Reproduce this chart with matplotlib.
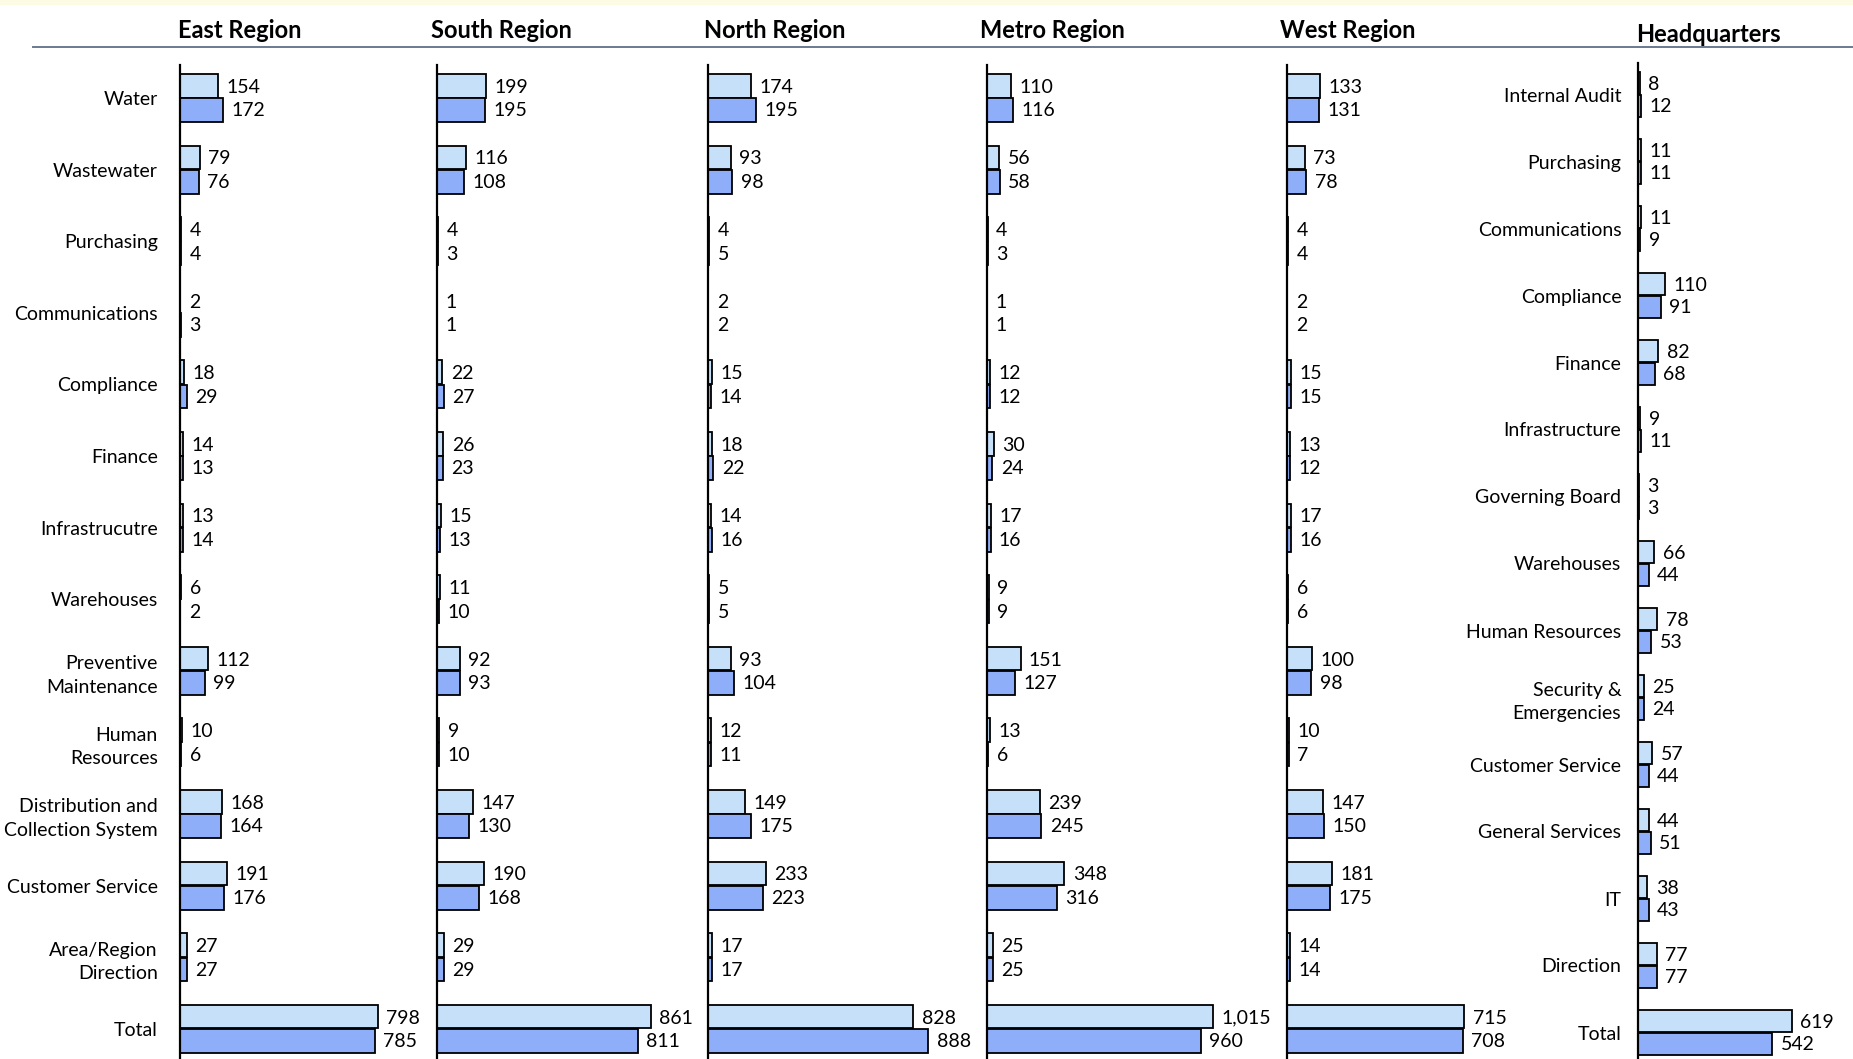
import numpy as np
import matplotlib
matplotlib.use("Agg")
import matplotlib.pyplot as plt
from matplotlib.patches import Rectangle

plt.rcParams['font.family'] = ['Lato', 'DejaVu Sans']

# categories shared by the five regions
region_cats = ["Water", "Wastewater", "Purchasing", "Communications", "Compliance",
               "Finance", "Infrastrucutre", "Warehouses", "Preventive\nMaintenance",
               "Human\nResources", "Distribution and\nCollection System",
               "Customer Service", "Area/Region\nDirection", "Total"]

regions = ["East Region", "South Region", "North Region", "Metro Region", "West Region"]

# first value = light bar (top), second value = dark bar (bottom)
east_a = [154, 79, 4, 2, 18, 14, 13, 6, 112, 10, 168, 191, 27, 798]
east_b = [172, 76, 4, 3, 29, 13, 14, 2, 99, 6, 164, 176, 27, 785]
south_a = [199, 116, 4, 1, 22, 26, 15, 11, 92, 9, 147, 190, 29, 861]
south_b = [195, 108, 3, 1, 27, 23, 13, 10, 93, 10, 130, 168, 29, 811]
north_a = [174, 93, 4, 2, 15, 18, 14, 5, 93, 12, 149, 233, 17, 828]
north_b = [195, 98, 5, 2, 14, 22, 16, 5, 104, 11, 175, 223, 17, 888]
metro_a = [110, 56, 4, 1, 12, 30, 17, 9, 151, 13, 239, 348, 25, 1015]
metro_b = [116, 58, 3, 1, 12, 24, 16, 9, 127, 6, 245, 316, 25, 960]
west_a = [133, 73, 4, 2, 15, 13, 17, 6, 100, 10, 147, 181, 14, 715]
west_b = [131, 78, 4, 2, 15, 12, 16, 6, 98, 7, 150, 175, 14, 708]

hq_cats = ["Internal Audit", "Purchasing", "Communications", "Compliance", "Finance",
           "Infrastructure", "Governing Board", "Warehouses", "Human Resources",
           "Security &\nEmergencies", "Customer Service", "General Services", "IT",
           "Direction", "Total"]
hq_a = [8, 11, 11, 110, 82, 9, 3, 66, 78, 25, 57, 44, 38, 77, 619]
hq_b = [12, 11, 9, 91, 68, 11, 3, 44, 53, 24, 44, 51, 43, 77, 542]

light = "#C6E0FA"
dark = "#8FAEFA"

W, H = 1853, 1059
fig = plt.figure(figsize=(W / 100, H / 100), dpi=100)

# thin pale strip at top
fig.patches.append(Rectangle((0, 1 - 5 / H), 1, 5 / H, transform=fig.transFigure,
                             facecolor="#FDFBE4", edgecolor="none"))
# rule under the titles
fig.add_artist(plt.Line2D([33 / W, 1], [1 - 47 / H, 1 - 47 / H], color="#6B7A90", lw=1.4))


def panel(x_spine, ppu, top, first, step, cats, a, b, title, title_x, title_y,
          show_cats, pad=16):
    n = len(cats)
    width_px = 250
    ax = fig.add_axes([x_spine / W, 0, width_px / W, (H - top) / H])
    ax.set_xlim(0, width_px / ppu)
    ax.set_ylim((H - first) / step, -(first - top) / step)
    y = np.arange(n)
    h = 0.33
    ax.barh(y - 0.17, a, height=h, color=light, edgecolor="black", linewidth=1.3)
    ax.barh(y + 0.17, b, height=h, color=dark, edgecolor="black", linewidth=1.3)
    for yi, va, vb in zip(y, a, b):
        ax.annotate(f"{va:,}", (va, yi - 0.15), xytext=(6, 0), textcoords="offset points",
                    va="center", ha="left", fontsize=14)
        ax.annotate(f"{vb:,}", (vb, yi + 0.18), xytext=(6, 0), textcoords="offset points",
                    va="center", ha="left", fontsize=14)
    for s in ["top", "right", "bottom"]:
        ax.spines[s].set_visible(False)
    ax.spines["left"].set_linewidth(1.6)
    ax.set_xticks([])
    ax.set_yticks(y)
    ax.tick_params(axis="y", length=0, pad=pad)
    if show_cats:
        ax.set_yticklabels(cats, fontsize=14, ha="right", multialignment="right",
                           linespacing=1.45)
    else:
        ax.set_yticklabels([])
    ax.patch.set_alpha(0)
    fig.text(title_x / W, 1 - title_y / H, title, ha="center", va="center",
             fontsize=17, fontweight="bold")
    return ax


region_data = [(east_a, east_b), (south_a, south_b), (north_a, north_b),
               (metro_a, metro_b), (west_a, west_b)]
spines = [180, 437, 708, 987, 1287]
ppus = [0.248, 0.248, 0.248, 0.2224, 0.248]
title_xs = [240, 501, 775, 1052, 1348]

for i, (name, (a, b)) in enumerate(zip(regions, region_data)):
    panel(spines[i], ppus[i], 65, 98, 71.6, region_cats, a, b, name,
          title_xs[i], 30, i == 0)

panel(1638, 0.248, 63, 94.5, 67, hq_cats, hq_a, hq_b, "Headquarters", 1708, 35, True,
      pad=12)

fig.savefig("out.png", dpi=100, facecolor="white")
